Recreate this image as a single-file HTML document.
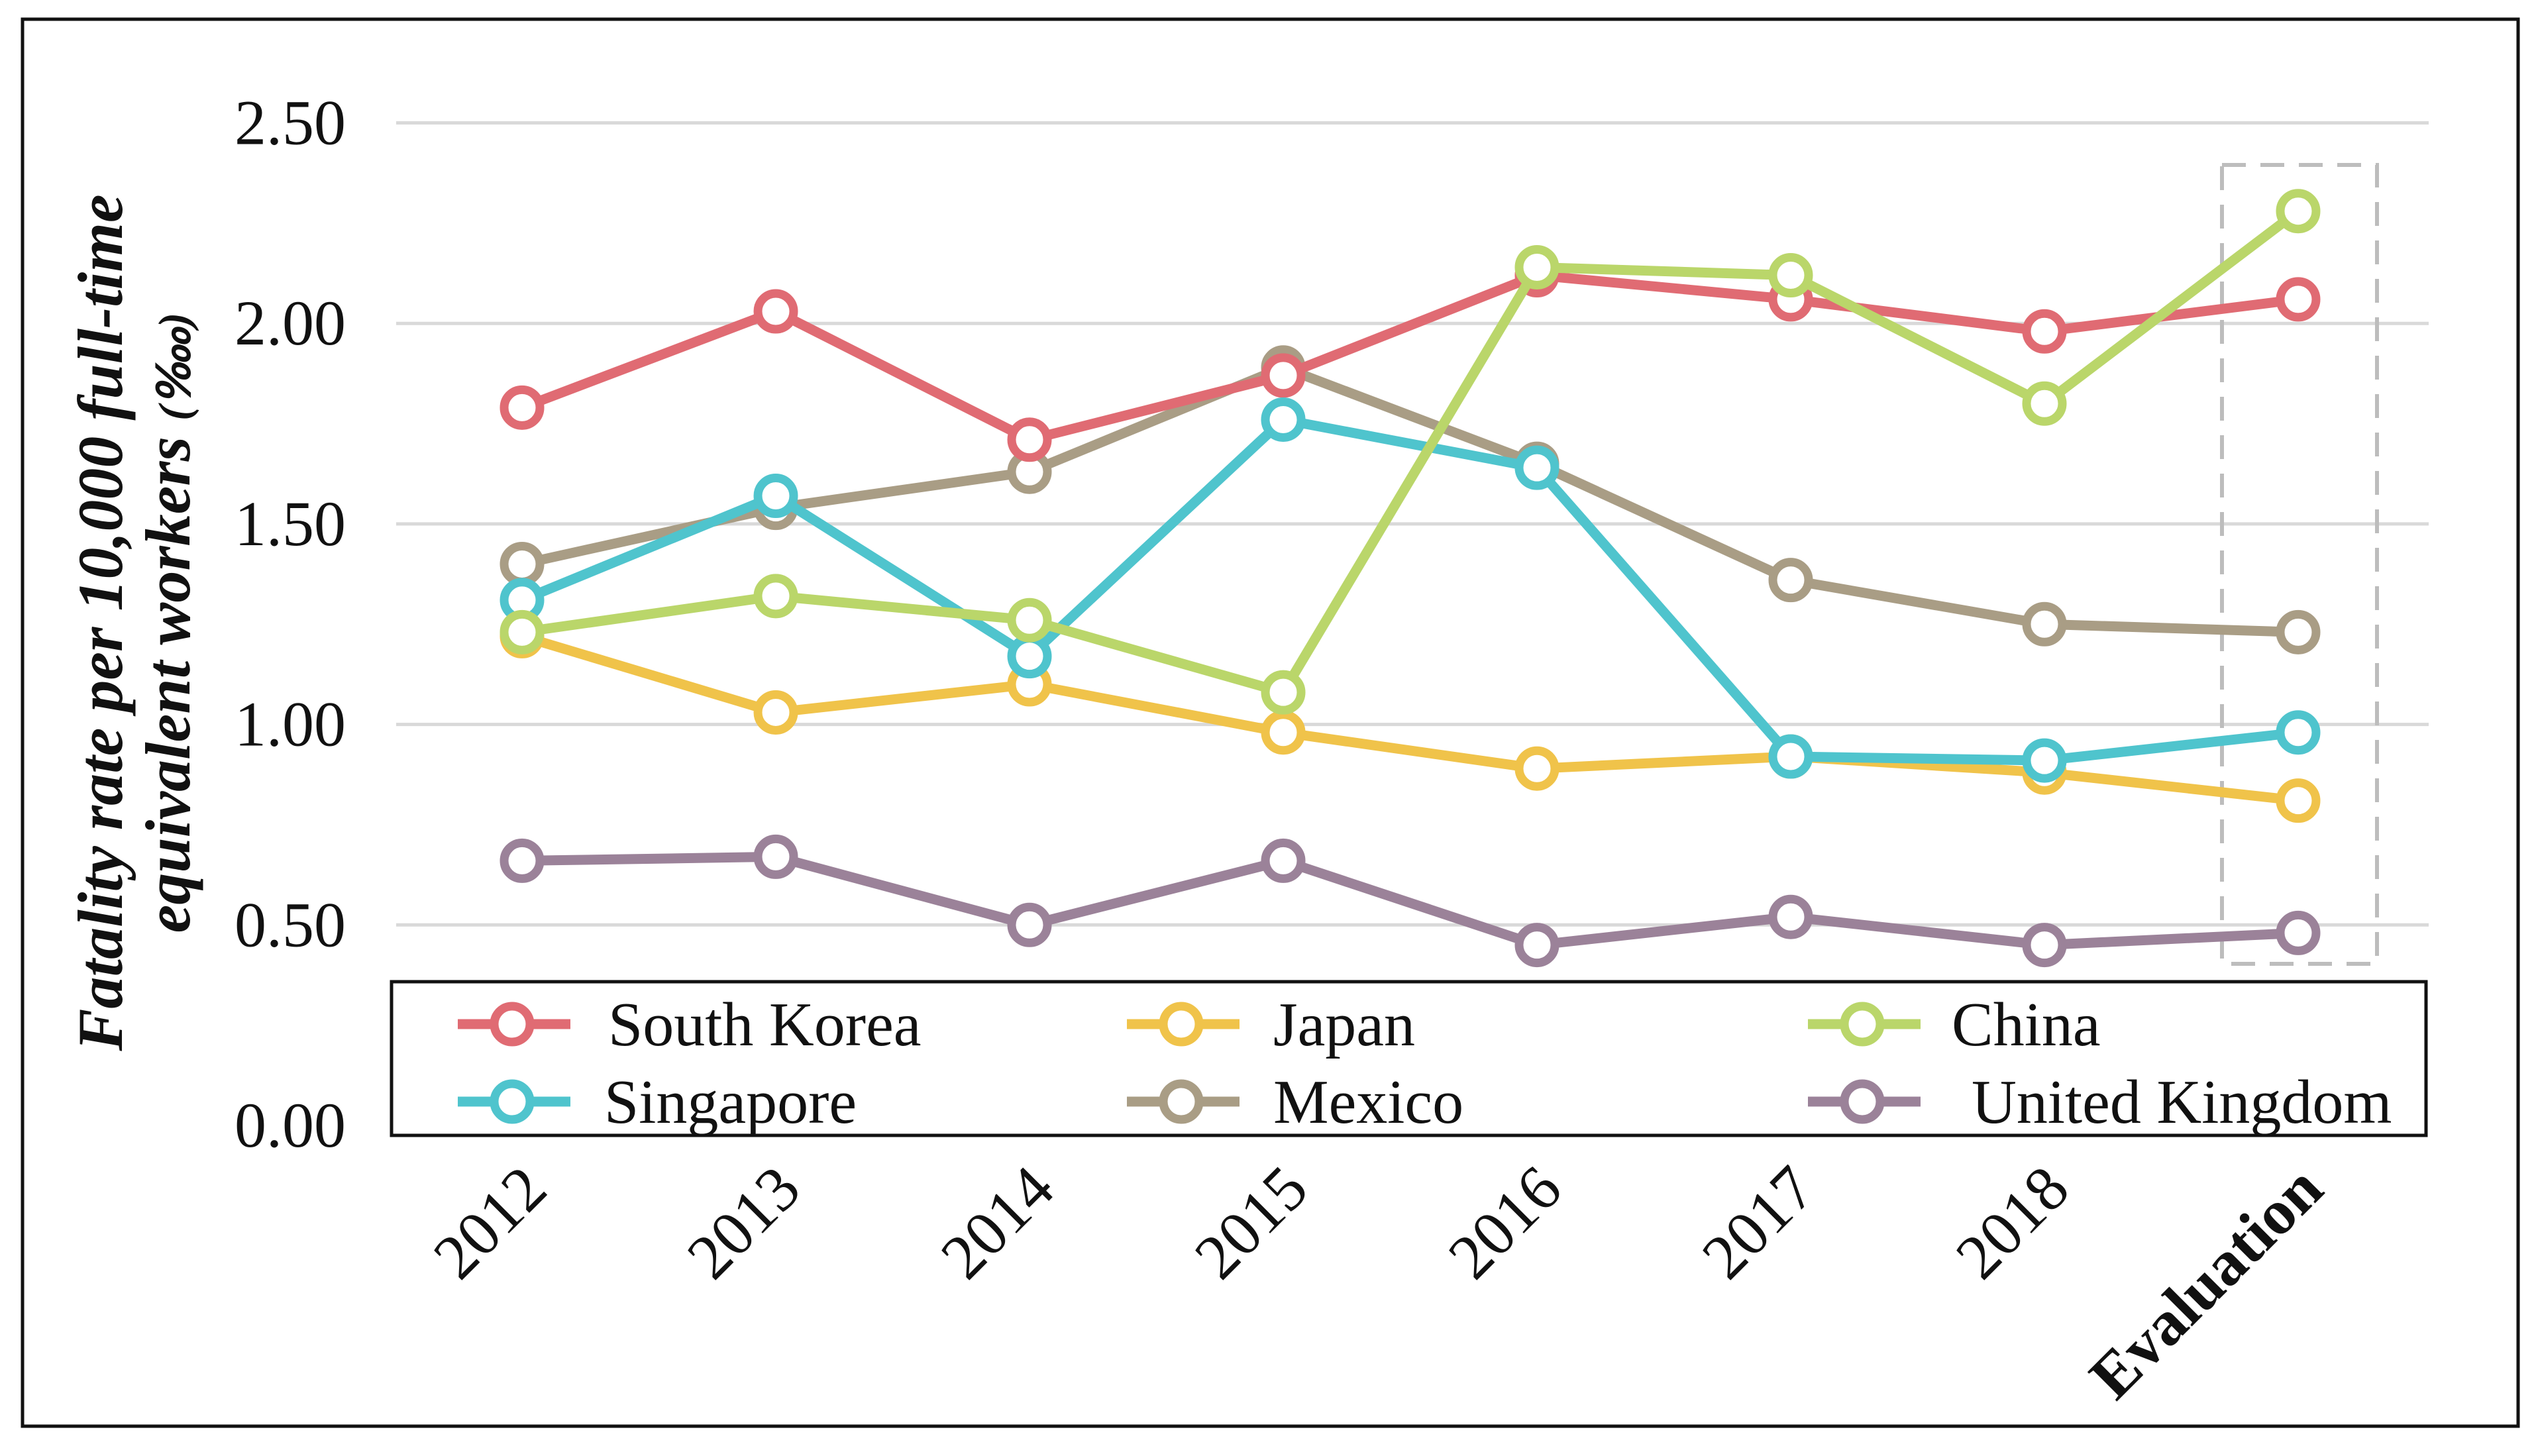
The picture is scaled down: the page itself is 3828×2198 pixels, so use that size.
<!DOCTYPE html>
<html><head><meta charset="utf-8">
<style>
html,body{margin:0;padding:0;background:#fff;}
svg{display:block;}
text{font-family:"Liberation Serif",serif;fill:#111;}
</style></head>
<body>
<svg id="chart" width="3828" height="2198" viewBox="0 0 3828 2198" xmlns="http://www.w3.org/2000/svg">
<rect x="34" y="29" width="3767" height="2124" fill="#fff" stroke="#111" stroke-width="5"/>
<g id="grid"></g>
<g id="yticks"></g>
<g id="xticks"></g>
<rect x="3354" y="249" width="234" height="1206" fill="none" stroke="#bdbdbd" stroke-width="6" stroke-dasharray="36,22"/>
<g id="series"></g>
<text transform="translate(184,940) rotate(-90)" text-anchor="middle" font-size="96" font-weight="bold" font-style="italic">Fatality rate per 10,000 full-time</text>
<text transform="translate(286,940) rotate(-90)" text-anchor="middle" font-size="96" font-weight="bold" font-style="italic">equivalent workers <tspan font-size="68">(‱)</tspan></text>
<g id="legend">
<rect x="591" y="1482" width="3071" height="232" fill="#fff" stroke="#111" stroke-width="5"/>
</g>
</svg>
<script>
const categories = ["2012","2013","2014","2015","2016","2017","2018","Evaluation"];
const yTicks = [0,0.5,1,1.5,2,2.5];
const yTickLabels = ["0.00","0.50","1.00","1.50","2.00","2.50"];
const seriesNames = ["South Korea","Japan","China","Singapore","Mexico","United Kingdom"];
const seriesColors = ["#e06b73","#f0c34a","#bad66a","#4fc4cd","#a99d85","#9b8299"];
const southKorea = [1.79,2.03,1.71,1.87,2.12,2.06,1.98,2.06];
const japan = [1.22,1.03,1.10,0.98,0.89,0.92,0.88,0.81];
const china = [1.23,1.32,1.26,1.08,2.14,2.12,1.80,2.28];
const singapore = [1.31,1.57,1.17,1.76,1.64,0.92,0.91,0.98];
const mexico = [1.40,1.54,1.63,1.89,1.65,1.36,1.25,1.23];
const unitedKingdom = [0.66,0.67,0.50,0.66,0.45,0.52,0.45,0.48];
const seriesData = [southKorea,japan,china,singapore,mexico,unitedKingdom];
const drawOrder = [4,1,0,3,2,5];

const NS="http://www.w3.org/2000/svg";
const yScale = v => 1699 - v*(1699-185.5)/2.5;
const xScale = i => 788 + i*383;
function mk(tag,attrs,parent){const e=document.createElementNS(NS,tag);for(const k in attrs)e.setAttribute(k,attrs[k]);parent.appendChild(e);return e;}

const grid=document.getElementById('grid'), yt=document.getElementById('yticks'), xt=document.getElementById('xticks');
yTicks.forEach((v,i)=>{
  if(v>0){const l=mk('line',{x1:598,x2:3666,y1:yScale(v),y2:yScale(v),stroke:'#d9d9d9','stroke-width':5},grid);
  
  }
  const t=mk('text',{x:522,y:yScale(v)+32,'text-anchor':'end','font-size':96},yt);
  t.textContent=yTickLabels[i];
  
  
});
categories.forEach((c,i)=>{
  const x=xScale(i)+42, y=1800;
  const t=mk('text',{x:x,y:y,'text-anchor':'end','font-size':96,transform:`rotate(-45 ${x} ${y})`},xt);
  if(c==="Evaluation")t.setAttribute('font-weight','bold');
  t.textContent=c;
  
  
});
const sg=document.getElementById('series');
drawOrder.forEach(s=>{
  const g=mk('g',{},sg);
  
  
  const pts=seriesData[s].map((v,i)=>xScale(i)+','+yScale(v)).join(' ');
  const pl=mk('polyline',{points:pts,fill:'none',stroke:seriesColors[s],'stroke-width':15,'stroke-linejoin':'round'},g);
  
  
  seriesData[s].forEach((v,i)=>{
    const c=mk('circle',{cx:xScale(i),cy:yScale(v),r:27,fill:'#fff',stroke:seriesColors[s],'stroke-width':13},g);
    
    
  });
});
const lg=document.getElementById('legend');
const legPos=[[691,1546,918],[1701,1546,1922],[2729,1546,2946],[691,1663,912],[1701,1663,1922],[2729,1663,2976]];
legPos.forEach((p,s)=>{
  const [x,y,tx]=p;
  const g=mk('g',{},lg);
  
  
  mk('line',{x1:x,x2:x+170,y1:y,y2:y,stroke:seriesColors[s],'stroke-width':15},g);
  mk('circle',{cx:x+82,cy:y,r:27,fill:'#fff',stroke:seriesColors[s],'stroke-width':13},g);
  const t=mk('text',{x:tx,y:y+32,'font-size':94},g);
  t.textContent=seriesNames[s];
});
</script>
</body></html>
